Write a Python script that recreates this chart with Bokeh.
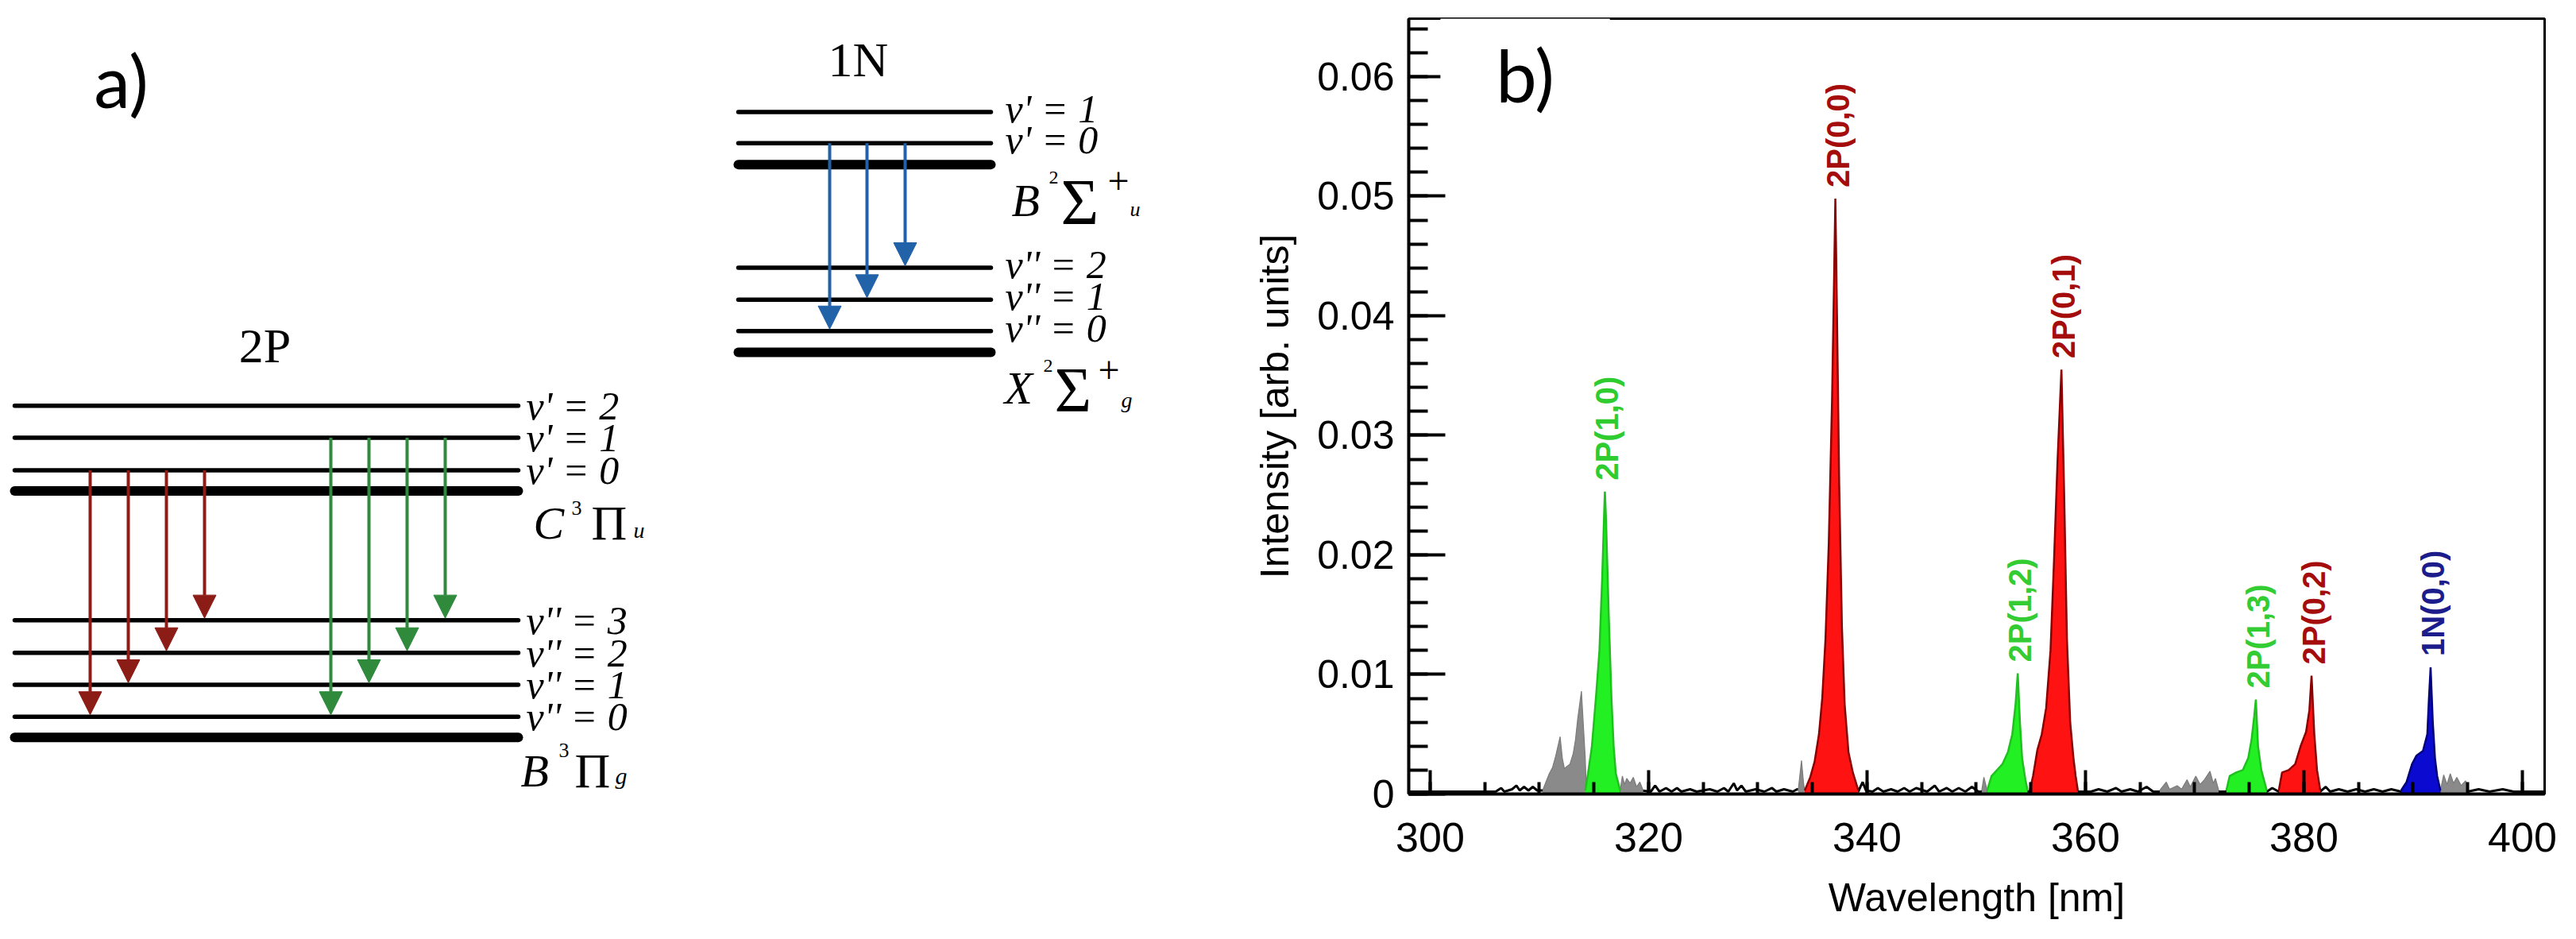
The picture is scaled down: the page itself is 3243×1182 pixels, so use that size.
import math
from bokeh.plotting import figure
from bokeh.layouts import row
from bokeh.models import Range1d, FixedTicker, Arrow, NormalHead, ColumnDataSource, Label
from bokeh.core.properties import value
from bokeh.embed import file_html
from bokeh.resources import INLINE

# ---------------- Panel a) : energy level diagrams ----------------
# 2P system (C3Pi_u -> B3Pi_g) level positions (diagram units)
levels_2P_y = [589, 637, 686, 717, 911, 960, 1008, 1056, 1087]
levels_2P_w = [5.5, 5.5, 5.5, 12, 5.5, 5.5, 5.5, 5.5, 12]
labels_2P = ["v' = 2", "v' = 1", "v' = 0", "v'' = 3", "v'' = 2", "v'' = 1", "v'' = 0"]
labels_2P_y = [589, 637, 686, 911, 960, 1008, 1056]

# 1N system (B2Sigma_u+ -> X2Sigma_g+)
levels_1N_y = [148, 195, 227, 382, 430, 477, 509]
levels_1N_w = [5.5, 5.5, 12, 5.5, 5.5, 5.5, 12]
labels_1N = ["v' = 1", "v' = 0", "v'' = 2", "v'' = 1", "v'' = 0"]
labels_1N_y = [148, 195, 382, 430, 477]

# transitions
red_x = [121, 169, 217, 265]
red_from = [686, 686, 686, 686]
red_to = [1056, 1008, 960, 911]
green_x = [424, 472, 520, 568]
green_from = [637, 637, 637, 637]
green_to = [1056, 1008, 960, 911]
blue_x = [1052, 1099, 1147]
blue_from = [195, 195, 195]
blue_to = [477, 430, 382]

# ---------------- Panel b) : spectrum ----------------
x_ticks = [300, 320, 340, 360, 380, 400]
x_minor = list(range(300, 405, 5))
y_ticks = [0, 0.01, 0.02, 0.03, 0.04, 0.05, 0.06]
y_tick_labels = ["0", "0.01", "0.02", "0.03", "0.04", "0.05", "0.06"]
y_minor = [round(i * 0.002, 3) for i in range(33)]

trace = [(298.0, 0.0002), (303.0, 0.0002), (306.0, 0.0002), (306.5, 0.0005), (306.8, 0.0002),
         (307.5, 0.0004), (307.9, 0.0007), (308.2, 0.0003), (308.6, 0.0006), (309.0, 0.0003),
         (309.4, 0.0006), (309.8, 0.0003), (310.3, 0.0003), (314.3, 0.0002), (317.4, 0.0002),
         (319.3, 0.0003), (320.2, 0.0002), (320.6, 0.0007), (321.0, 0.0002), (321.6, 0.0005),
         (322.1, 0.0002), (322.6, 0.0005), (323.0, 0.0002), (323.8, 0.0004), (324.4, 0.0002),
         (325.6, 0.0004), (326.3, 0.0002), (326.9, 0.0005), (327.3, 0.0002), (327.8, 0.0009),
         (328.1, 0.0003), (328.5, 0.0007), (328.9, 0.0002), (329.8, 0.0004), (330.6, 0.0002),
         (331.3, 0.0005), (331.7, 0.0002), (332.4, 0.0004), (333.2, 0.0002), (333.6, 0.0004),
         (334.3, 0.0002), (339.2, 0.0002), (339.6, 0.0010), (339.9, 0.0003), (340.5, 0.0002),
         (341.0, 0.0005), (341.5, 0.0002), (342.2, 0.0004), (342.8, 0.0002), (343.4, 0.0005),
         (343.9, 0.0002), (344.5, 0.0005), (345.5, 0.0002), (346.2, 0.0007), (346.6, 0.0002),
         (347.3, 0.0005), (347.8, 0.0002), (348.4, 0.0005), (349.0, 0.0002), (349.6, 0.0006),
         (350.2, 0.0002), (351.0, 0.0002), (354.9, 0.0002), (359.3, 0.0002), (360.5, 0.0002),
         (361.2, 0.0004), (362.0, 0.0002), (362.8, 0.0005), (363.3, 0.0002), (364.1, 0.0004),
         (364.8, 0.0002), (365.6, 0.0006), (366.2, 0.0002), (372.9, 0.0002), (376.6, 0.0002),
         (377.1, 0.0005), (377.7, 0.0002), (381.5, 0.0002), (382.0, 0.0006), (382.4, 0.0002),
         (383.2, 0.0004), (384.0, 0.0002), (384.8, 0.0004), (385.6, 0.0002), (386.4, 0.0004),
         (387.2, 0.0002), (388.0, 0.0004), (388.9, 0.0002), (392.5, 0.0002), (395.0, 0.0002),
         (396.0, 0.0004), (397.0, 0.0002), (398.2, 0.0004), (399.2, 0.0002), (402.0, 0.0002)]
trace_nm = [t[0] for t in trace]
trace_val = [t[1] for t in trace]

# unassigned (gray) emission
gray1_nm = [310.3, 310.6, 310.9, 311.2, 311.5, 311.7, 311.9, 312.1, 312.3, 312.5, 312.8, 313.1, 313.3, 313.5, 313.85, 314.0, 314.2, 314.3]
gray1_val = [0.0003, 0.0010, 0.0017, 0.0022, 0.0032, 0.0040, 0.0048, 0.0030, 0.0021, 0.0023, 0.0025, 0.0034, 0.0045, 0.0062, 0.0086, 0.0062, 0.0030, 0.0003]
gray2_nm = [317.4, 317.6, 317.8, 318.0, 318.3, 318.6, 318.9, 319.2, 319.5]
gray2_val = [0.0003, 0.0015, 0.0008, 0.0013, 0.0009, 0.0014, 0.0006, 0.0010, 0.0003]
gray3_nm = [333.7, 334.0, 334.2, 334.3]
gray3_val = [0.0003, 0.0028, 0.0008, 0.0003]
gray4_nm = [350.5, 350.7, 351.0]
gray4_val = [0.0003, 0.0014, 0.0003]
gray5_nm = [366.8, 367.4, 367.7, 368.4, 368.8, 369.3, 369.6, 370.1, 370.5, 370.9, 371.4, 371.7, 371.9, 372.2]
gray5_val = [0.0003, 0.0010, 0.0004, 0.0007, 0.0004, 0.0012, 0.0006, 0.0015, 0.0008, 0.0012, 0.0019, 0.0009, 0.0013, 0.0003]
gray6_nm = [392.5, 392.8, 393.1, 393.4, 393.7, 394.0, 394.4, 394.8, 395.1]
gray6_val = [0.0003, 0.0016, 0.0008, 0.0017, 0.0009, 0.0014, 0.0007, 0.0011, 0.0003]

# assigned bands
p2P10_nm = [314.2, 314.45, 314.8, 315.2, 315.5, 315.75, 315.95, 316.0, 316.1, 316.35, 316.6, 316.8, 317.0, 317.4]
p2P10_val = [0.0003, 0.0017, 0.0039, 0.0083, 0.0120, 0.0180, 0.0240, 0.0253, 0.0230, 0.0150, 0.0080, 0.0040, 0.0017, 0.0003]
p2P00_nm = [334.3, 334.8, 335.2, 335.6, 335.9, 336.2, 336.5, 336.8, 337.0, 337.1, 337.25, 337.45, 337.7, 337.95, 338.3, 338.7, 339.2]
p2P00_val = [0.0003, 0.0014, 0.0027, 0.0050, 0.0080, 0.0130, 0.0210, 0.0330, 0.0440, 0.0498, 0.0400, 0.0260, 0.0140, 0.0075, 0.0035, 0.0018, 0.0003]
p2P12_nm = [351.0, 351.4, 351.9, 352.4, 352.9, 353.3, 353.6, 353.8, 354.0, 354.2, 354.5, 354.7]
p2P12_val = [0.0003, 0.0015, 0.0020, 0.0025, 0.0035, 0.0050, 0.0075, 0.0101, 0.0060, 0.0030, 0.0012, 0.0003]
p2P01_nm = [354.9, 355.2, 355.6, 356.0, 356.4, 356.8, 357.1, 357.45, 357.8, 358.05, 358.3, 358.6, 358.9, 359.1, 359.3]
p2P01_val = [0.0003, 0.0015, 0.0037, 0.0050, 0.0072, 0.0120, 0.0190, 0.0280, 0.0355, 0.0250, 0.0130, 0.0060, 0.0030, 0.0015, 0.0003]
p2P13_nm = [372.9, 373.2, 373.8, 374.4, 374.9, 375.2, 375.45, 375.6, 375.8, 376.1, 376.6]
p2P13_val = [0.0003, 0.0015, 0.0018, 0.0020, 0.0030, 0.0045, 0.0065, 0.0079, 0.0040, 0.0020, 0.0003]
p2P02_nm = [377.7, 378.0, 378.6, 379.2, 379.7, 380.2, 380.5, 380.7, 380.95, 381.2, 381.5]
p2P02_val = [0.0003, 0.0018, 0.0020, 0.0025, 0.0040, 0.0052, 0.0070, 0.0099, 0.0050, 0.0020, 0.0003]
p1N00_nm = [388.9, 389.4, 389.9, 390.3, 390.9, 391.3, 391.45, 391.6, 391.8, 392.0, 392.2, 392.5]
p1N00_val = [0.0003, 0.0010, 0.0025, 0.0032, 0.0036, 0.0050, 0.0080, 0.0106, 0.0060, 0.0030, 0.0015, 0.0003]

band_labels = ["2P(1,0)", "2P(0,0)", "2P(1,2)", "2P(0,1)", "2P(1,3)", "2P(0,2)", "1N(0,0)"]
band_peak_nm = [316.0, 337.1, 353.8, 357.8, 375.6, 380.7, 391.6]
band_peak_val = [0.0253, 0.0498, 0.0101, 0.0355, 0.0079, 0.0099, 0.0106]

# ---------------- styles ----------------
RED_ARROW = "#8c1c16"
GREEN_ARROW = "#2f8a3c"
BLUE_ARROW = "#2262a8"
SERIF = "Liberation Serif"
SANS = "Liberation Sans"

# ================= figure a =================
pa = figure(width=1560, height=1164, x_range=Range1d(8, 1568), y_range=Range1d(1172, 8),
            output_backend="svg", toolbar_location=None, min_border=0,
            x_axis_type=None, y_axis_type=None)
pa.grid.visible = False
pa.outline_line_color = None

pa.segment(x0=[26] * len(levels_2P_y), x1=[660] * len(levels_2P_y), y0=levels_2P_y, y1=levels_2P_y,
           line_width=levels_2P_w, line_color="black", line_cap="round")
pa.segment(x0=[937] * len(levels_1N_y), x1=[1255] * len(levels_1N_y), y0=levels_1N_y, y1=levels_1N_y,
           line_width=levels_1N_w, line_color="black", line_cap="round")

pa.text(x=[670] * len(labels_2P), y=labels_2P_y, text=labels_2P, text_font=value(SERIF),
        text_font_style="italic", text_font_size="50px", text_baseline="middle", text_align="left",
        text_color="black")
pa.text(x=[1273] * len(labels_1N), y=labels_1N_y, text=labels_1N, text_font=value(SERIF),
        text_font_style="italic", text_font_size="50px", text_baseline="middle", text_align="left",
        text_color="black", y_offset=-4)

# state labels (term symbols), pieces
state_pieces = [
    (679, 765, "C", 58, "italic"), (727, 743, "3", 26, "normal"), (752, 765, "\u03a0", 62, "normal"), (805, 776, "u", 28, "italic"),
    (663, 1137, "B", 58, "italic"), (711, 1107, "3", 26, "normal"), (731, 1137, "\u03a0", 62, "normal"), (782, 1145, "g", 30, "italic"),
    (1281, 281, "B", 58, "italic"), (1328, 246, "2", 24, "normal"), (1343, 283, "\u03a3", 82, "normal"), (1402, 252, "+", 48, "normal"), (1430, 294, "u", 26, "italic"),
    (1272, 563, "X", 58, "italic"), (1321, 529, "2", 24, "normal"), (1335, 566, "\u03a3", 80, "normal"), (1390, 536, "+", 48, "normal"), (1419, 580, "g", 28, "italic"),
]
for (sx, sy, st, ss, sstyle) in state_pieces:
    pa.text(x=[sx], y=[sy], text=[st], text_font=value(SERIF), text_font_style=sstyle,
            text_font_size=f"{ss}px", text_baseline="alphabetic", text_align="left", text_color="black")

pa.text(x=[341, 1088], y=[499, 70], text=["2P", "1N"], text_font=value(SERIF), text_font_size="62px",
        text_baseline="middle", text_align="center", text_color="black")
pa.text(x=[160], y=[100], text=["a)"], text_font=value("Lato"), text_font_size="92px",
        text_baseline="middle", text_align="center", text_color="black")

def add_arrows(plot, xs, y0, y1, color):
    src = ColumnDataSource(dict(x0=xs, y0=y0, x1=xs, y1=[v - 3 for v in y1]))
    plot.add_layout(Arrow(end=NormalHead(size=29, fill_color=color, line_color=color, line_width=1),
                          x_start="x0", y_start="y0", x_end="x1", y_end="y1", source=src,
                          line_color=color, line_width=4))

add_arrows(pa, red_x, red_from, red_to, RED_ARROW)
add_arrows(pa, green_x, green_from, green_to, GREEN_ARROW)
add_arrows(pa, blue_x, blue_from, blue_to, BLUE_ARROW)

# ================= figure b =================
pb = figure(width=1665, height=1164, x_range=Range1d(298.04, 402.04), y_range=Range1d(0, 0.06485),
            output_backend="svg", toolbar_location=None,
            min_border_left=213, min_border_right=22, min_border_top=23, min_border_bottom=165)
pb.grid.visible = False
pb.outline_line_color = "black"
pb.outline_line_width = 3
pb.background_fill_color = "white"

pb.line(trace_nm, trace_val, line_color="black", line_width=3)

for gx, gy in [(gray1_nm, gray1_val), (gray2_nm, gray2_val), (gray3_nm, gray3_val),
               (gray4_nm, gray4_val), (gray5_nm, gray5_val), (gray6_nm, gray6_val)]:
    pb.varea(x=gx, y1=[0] * len(gx), y2=gy, fill_color="#8a8a8a")
    pb.line(gx, gy, line_color="#7a7a7a", line_width=1.2)

bands = [
    (p2P10_nm, p2P10_val, "#22f022", "#20c020"),
    (p2P00_nm, p2P00_val, "#ff1212", "#8b0000"),
    (p2P12_nm, p2P12_val, "#22f022", "#20c020"),
    (p2P01_nm, p2P01_val, "#ff1212", "#8b0000"),
    (p2P13_nm, p2P13_val, "#22f022", "#20c020"),
    (p2P02_nm, p2P02_val, "#ff1212", "#8b0000"),
    (p1N00_nm, p1N00_val, "#0a0ad0", "#00007a"),
]
for bx, by, fc, lc in bands:
    pb.varea(x=bx, y1=[0] * len(bx), y2=by, fill_color=fc)
    pb.line(bx, by, line_color=lc, line_width=2.5)

label_colors = ["#2ecc2e", "#a50c0c", "#33cc33", "#a50c0c", "#33cc33", "#a50c0c", "#1c1c8c"]
pb.text(x=band_peak_nm, y=band_peak_val, text=band_labels, angle=math.pi / 2,
        text_color=label_colors, text_font=value(SANS), text_font_style="bold",
        text_font_size="40px", text_align="left", text_baseline="middle",
        x_offset=3, y_offset=-14)

# axes
xa = pb.xaxis[0]
xa.ticker = FixedTicker(ticks=x_ticks, minor_ticks=x_minor)
xa.axis_line_width = 4
xa.axis_line_color = "black"
xa.major_tick_in = 30
xa.major_tick_out = 0
xa.minor_tick_in = 15
xa.minor_tick_out = 0
xa.major_tick_line_width = 4
xa.minor_tick_line_width = 4
xa.major_tick_line_color = "black"
xa.minor_tick_line_color = "black"
xa.major_label_text_font = SANS
xa.major_label_text_font_size = "52px"
xa.major_label_text_color = "black"
xa.major_label_standoff = 36
xa.axis_label = "Wavelength [nm]"
xa.axis_label_text_font = SANS
xa.axis_label_text_font_style = "normal"
xa.axis_label_text_font_size = "50px"
xa.axis_label_text_color = "black"
xa.axis_label_standoff = 27

ya = pb.yaxis[0]
ya.ticker = FixedTicker(ticks=y_ticks, minor_ticks=y_minor)
ya.major_label_overrides = {t: s for t, s in zip(y_ticks, y_tick_labels)}
ya.axis_line_width = 4
ya.axis_line_color = "black"
ya.major_tick_in = 46
ya.major_tick_out = 0
ya.minor_tick_in = 24
ya.minor_tick_out = 0
ya.major_tick_line_width = 4
ya.minor_tick_line_width = 4
ya.major_tick_line_color = "black"
ya.minor_tick_line_color = "black"
ya.major_label_text_font = SANS
ya.major_label_text_font_size = "50px"
ya.major_label_text_color = "black"
ya.major_label_standoff = 18
ya.axis_label = "Intensity [arb. units]"
ya.axis_label_text_font = SANS
ya.axis_label_text_font_style = "normal"
ya.axis_label_text_font_size = "50px"
ya.axis_label_text_color = "black"
ya.axis_label_standoff = 22

pb.add_layout(Label(x=308.7, y=0.0602, text="b)", text_font="Lato", text_font_size="92px",
                    text_align="center", text_baseline="middle", text_color="black",
                    background_fill_color="white", padding=70))

layout = row(pa, pb)
open("out.html", "w").write(file_html(layout, INLINE))
